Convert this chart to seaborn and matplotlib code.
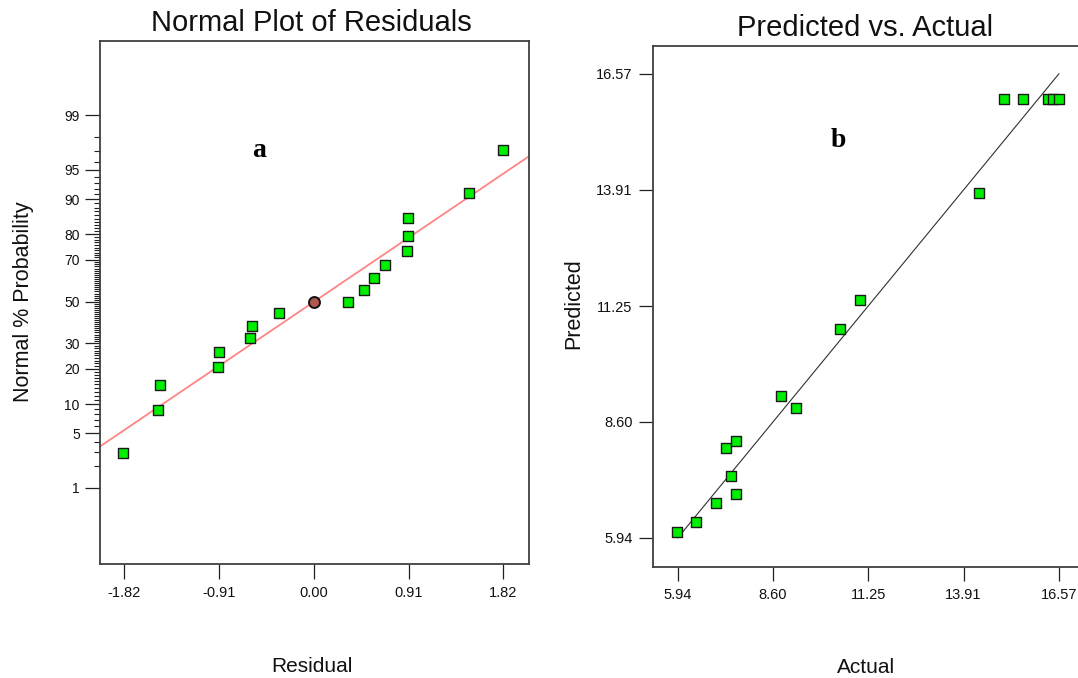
import numpy as np
import matplotlib
matplotlib.use("Agg")
import matplotlib.pyplot as plt
import seaborn as sns
from statistics import NormalDist

# ---------------- data ----------------
# (a) Normal plot of residuals
residuals = [-1.825, -1.496, -1.471, -0.920, -0.908, -0.608, -0.589, -0.336, 0.326,
             0.482, 0.575, 0.681, 0.895, 0.907, 0.907, 1.486, 1.818]
normal_prob = [2.9, 8.8, 14.7, 20.6, 26.5, 32.4, 38.2, 44.1, 50.0,
               55.9, 61.8, 67.6, 73.5, 79.4, 85.3, 91.2, 97.1]
highlight_res = [0.0]
highlight_prob = [50.0]
ref_line_res = [-2.05, 2.06]
ref_line_prob = [3.5, 96.5]
res_ticks = [-1.82, -0.91, 0.00, 0.91, 1.82]
res_ticklabels = ["-1.82", "-0.91", "0.00", "0.91", "1.82"]
prob_major = [1, 5, 10, 20, 30, 50, 70, 80, 90, 95, 99]
prob_minor = [v for v in range(2, 99) if v not in prob_major]

# (b) Predicted vs actual
actual = [5.92, 6.46, 7.02, 7.56, 7.43, 7.28, 7.56, 8.81, 9.24, 10.47, 11.02,
          14.34, 15.03, 15.58, 16.25, 16.41, 16.58]
predicted = [6.08, 6.30, 6.73, 6.95, 7.36, 8.00, 8.15, 9.19, 8.92, 10.72, 11.40,
             13.83, 16.00, 16.00, 16.00, 16.00, 16.00]
diag_line = [5.94, 16.57]
pva_ticks = [5.94, 8.60, 11.25, 13.91, 16.57]
pva_ticklabels = ["5.94", "8.60", "11.25", "13.91", "16.57"]

# ---------------- style ----------------
sns.set_style("ticks")
plt.rcParams['font.family'] = ['Liberation Sans', 'DejaVu Sans']

W, H = 1078, 678
fig = plt.figure(figsize=(W / 100, H / 100), dpi=100)

def px_axes(x0, y0, x1, y1):
    return fig.add_axes([x0 / W, 1 - y1 / H, (x1 - x0) / W, (y1 - y0) / H])

nd = NormalDist()
def fwd(p):
    p = np.clip(np.asarray(p, dtype=float), 1e-6, 100 - 1e-6)
    return np.vectorize(lambda v: nd.inv_cdf(v / 100.0), otypes=[float])(p)
def inv(z):
    z = np.asarray(z, dtype=float)
    return np.vectorize(lambda v: nd.cdf(v) * 100.0, otypes=[float])(z)

green = '#00EE00'
edge = '#1a1a1a'
spine_col = '#404040'
txt = '#111111'

# ---------------- (a) ----------------
ax1 = px_axes(100, 41.3, 528.5, 564)
sns.lineplot(x=ref_line_res, y=ref_line_prob, ax=ax1, color='#FF8585', lw=1.3, zorder=1)
sns.scatterplot(x=residuals, y=normal_prob, ax=ax1, marker='s', s=50, color=green,
                edgecolor=edge, linewidth=1.0, zorder=3)
sns.scatterplot(x=highlight_res, y=highlight_prob, ax=ax1, marker='o', s=62, color='#B0574F',
                edgecolor='#111111', linewidth=1.4, zorder=4)
ax1.set_yscale('function', functions=(fwd, inv))
ax1.set_xlim(-2.05, 2.06)
ax1.set_ylim(0.0517, 99.943)
ax1.set_xticks(res_ticks)
ax1.set_xticklabels(res_ticklabels)
ax1.set_yticks(prob_major)
ax1.set_yticklabels([str(v) for v in prob_major])
ax1.set_yticks(prob_minor, minor=True)
ax1.tick_params(axis='both', which='major', direction='out', length=10.5, width=0.9,
                color='#202020', labelsize=10.5, pad=5, labelcolor=txt,
                bottom=True, left=True, top=False, right=False)
ax1.tick_params(axis='y', which='major', labelsize=10, pad=4)
ax1.tick_params(axis='y', which='minor', direction='out', length=4, width=0.8,
                color='#202020', left=True, right=False)
ax1.tick_params(axis='x', which='minor', length=0, bottom=False)
for s in ax1.spines.values():
    s.set_visible(True)
    s.set_color(spine_col)
    s.set_linewidth(1.3)
ax1.text(258.7 / W, 1 - 157.3 / H, 'a', transform=fig.transFigure, ha='center', va='baseline',
         fontsize=20, fontweight='bold', color='black',
         family=['Liberation Serif', 'DejaVu Serif'])

# ---------------- (b) ----------------
ax2 = px_axes(653.3, 45.5, 1082.3, 567.3)
sns.lineplot(x=diag_line, y=diag_line, ax=ax2, color='#303030', lw=0.8, zorder=1)
sns.scatterplot(x=actual, y=predicted, ax=ax2, marker='s', s=50, color=green,
                edgecolor=edge, linewidth=1.0, zorder=3)
ax2.set_xlim(5.26, 17.22)
ax2.set_ylim(5.269, 17.216)
ax2.set_xticks(pva_ticks)
ax2.set_xticklabels(pva_ticklabels)
ax2.set_yticks(pva_ticks)
ax2.set_yticklabels(pva_ticklabels)
ax2.tick_params(axis='both', which='major', direction='out', length=10, width=0.9,
                color='#202020', labelsize=10.5, pad=5, labelcolor=txt,
                bottom=True, left=True, top=False, right=False)
ax2.tick_params(axis='both', which='minor', length=0)
for s in ax2.spines.values():
    s.set_visible(True)
    s.set_color(spine_col)
    s.set_linewidth(1.3)
ax2.text(838 / W, 1 - 147.3 / H, 'b', transform=fig.transFigure, ha='center', va='baseline',
         fontsize=20, fontweight='bold', color='black',
         family=['Liberation Serif', 'DejaVu Serif'])

# ---------------- titles & labels ----------------
fig.text(311.5 / W, 1 - 31.0 / H, 'Normal Plot of Residuals', ha='center', va='baseline',
         fontsize=21, color=txt)
fig.text(865.5 / W, 1 - 36.0 / H, 'Predicted vs. Actual', ha='center', va='baseline',
         fontsize=21, color=txt)
fig.text(312 / W, 1 - 671.7 / H, 'Residual', ha='center', va='baseline', fontsize=15,
         color=txt)
fig.text(866 / W, 1 - 673 / H, 'Actual', ha='center', va='baseline', fontsize=15,
         color=txt)
fig.text(23.5 / W, 1 - 301.5 / H, 'Normal % Probability', ha='center', va='center',
         rotation=90, fontsize=15.5, color=txt)
fig.text(573.3 / W, 1 - 303.7 / H, 'Predicted', ha='center', va='center',
         rotation=90, fontsize=15.5, color=txt)

fig.savefig('out.png', dpi=100)
